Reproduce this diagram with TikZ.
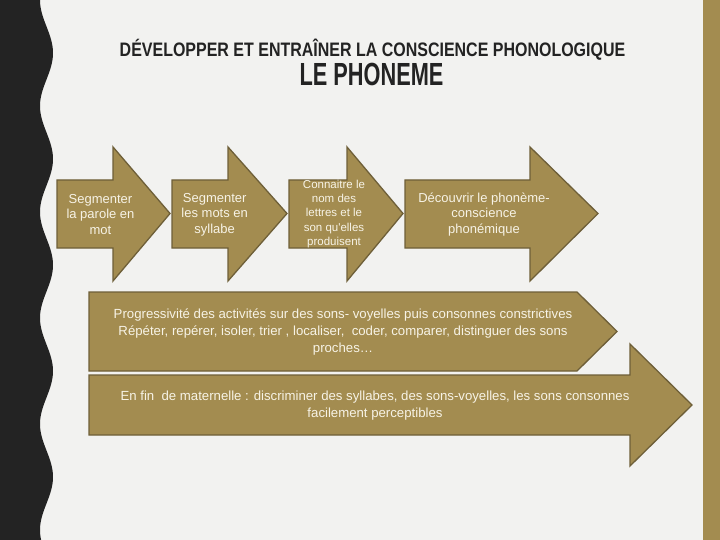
\documentclass[tikz,border=0pt]{standalone}
\usepackage{fontspec}
\setmainfont{Liberation Sans}
\usepackage{graphicx}
\definecolor{bg}{HTML}{F2F2F0}
\definecolor{dark}{HTML}{232323}
\definecolor{gold}{HTML}{A38C50}
\definecolor{goldline}{HTML}{6E5F38}
\definecolor{cream}{HTML}{F7F3E6}
\begin{document}
\begin{tikzpicture}[x=1pt,y=-1pt,
  arrowshape/.style={fill=gold,draw=goldline,line width=1.3pt,line join=miter},
  lbl/.style={text=cream,align=center,font=\fontsize{13}{15.5}\selectfont,inner sep=0pt},
  lblsmall/.style={text=cream,align=center,font=\fontsize{11.5}{14.4}\selectfont,inner sep=0pt},
  lblwide/.style={text=cream,align=center,font=\fontsize{13.2}{16.8}\selectfont,inner sep=0pt},
  titlefont/.style={text=dark,inner sep=0pt,anchor=base}
]
\fill[bg] (0,0) rectangle (720,540);
\useasboundingbox (0,0) rectangle (720,540);
% left wavy band
\fill[dark] (0,0) -- plot[domain=0:540,samples=220,smooth] ({46.5-6.5*cos(3.3962*\x)},\x) -- (0,540) -- cycle;
% right bar
\fill[gold] (703,0) rectangle (720,540);

% title
\node[titlefont,font=\bfseries\fontsize{19.5}{20}\selectfont] (t1) at (372.5,56.5)
  {\scalebox{0.82}[1]{DÉVELOPPER ET ENTRAÎNER LA CONSCIENCE PHONOLOGIQUE}};
\node[titlefont,font=\bfseries\fontsize{32}{34}\selectfont] (t2) at (371.5,86)
  {\scalebox{0.68}[1]{LE PHONEME}};

% small arrows
\draw[arrowshape] (57,180) -- (113,180) -- (113,147) -- (170,213.5) -- (113,281) -- (113,248) -- (57,248) -- cycle;
\draw[arrowshape] (172,180) -- (228,180) -- (228,147) -- (287,213.5) -- (228,281) -- (228,248) -- (172,248) -- cycle;
\draw[arrowshape] (289,180) -- (347,180) -- (347,147) -- (403,213.5) -- (347,281) -- (347,248) -- (289,248) -- cycle;
\draw[arrowshape] (405,180) -- (530,180) -- (530,147) -- (598,213.5) -- (530,281) -- (530,248) -- (405,248) -- cycle;

\node[lbl] (a1) at (100.5,214.5) {Segmenter\\la parole en\\mot};
\node[lbl] (a2) at (214.7,214.5) {Segmenter\\les mots en\\syllabe};
\node[lblsmall] (a3) at (334,214) {Connaitre le\\nom des\\lettres et le\\son qu\textquotesingle elles\\produisent};
\node[lbl] (a4) at (484,214.5) {Découvrir le phonème-\\conscience\\phonémique};

% wide arrows
\draw[arrowshape] (89,292) -- (577,292) -- (617,331.5) -- (577,371) -- (89,371) -- cycle;
\draw[arrowshape] (89,375) -- (630,375) -- (630,344) -- (692,405) -- (630,466) -- (630,435) -- (89,435) -- cycle;

\node[lblwide] (b1) at (343,332) {Progressivité des activités sur des sons- voyelles puis consonnes constrictives\\Répéter, repérer, isoler, trier , localiser,~ coder, comparer, distinguer des sons\\proches…};
\node[lblwide] (b2) at (375,405.5) {En fin~ de maternelle : discriminer des syllabes, des sons-voyelles, les sons consonnes\\facilement perceptibles};
\end{tikzpicture}
\end{document}
